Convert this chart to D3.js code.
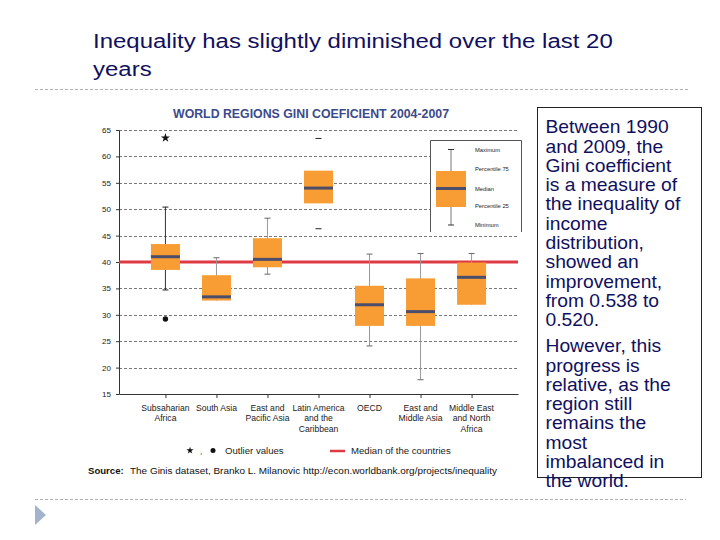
<!DOCTYPE html>
<html>
<head>
<meta charset="utf-8">
<script src="https://cdn.jsdelivr.net/npm/d3@7"></script>
<style>
  html, body { margin: 0; padding: 0; background: #fff; }
  svg { display: block; font-family: "Liberation Sans", Arial, sans-serif; }
</style>
</head>
<body>
<svg id="chart" width="720" height="540"></svg>
<script>
// ---- Data ----
const categories = ["Subsaharian Africa", "South Asia", "East and Pacific Asia", "Latin America and the Caribbean", "OECD", "East and Middle Asia", "Middle East and North Africa"];
const categoryLabels = [["Subsaharian", "Africa"], ["South Asia"], ["East and", "Pacific Asia"], ["Latin America", "and the", "Caribbean"], ["OECD"], ["East and", "Middle Asia"], ["Middle East", "and North", "Africa"]];
const minValues    = [34.7, 32.7, 37.7, 46.3, 24.1, 17.7, 31.9];
const q1Values     = [38.5, 32.7, 39.0, 51.1, 27.9, 27.9, 31.9];
const medianValues = [41.0, 33.4, 40.5, 54.0, 31.9, 30.6, 37.1];
const q3Values     = [43.4, 37.5, 44.5, 57.3, 35.5, 36.9, 39.9];
const maxValues    = [50.4, 40.8, 48.3, 63.4, 41.5, 41.6, 41.6];
const starOutliers = [{cat: "Subsaharian Africa", value: 63.5}];
const dotOutliers  = [{cat: "Subsaharian Africa", value: 29.2}];
const countriesMedian = 40;
const yTicks = [15, 20, 25, 30, 35, 40, 45, 50, 55, 60, 65];
const legendLabels = ["Maximum", "Percentile 75", "Median", "Percentile 25", "Minimum"];
const paragraph1 = ["Between 1990", "and 2009, the", "Gini coefficient", "is a measure of", "the inequality of", "income", "distribution,", "showed an", "improvement,", "from 0.538 to", "0.520."];
const paragraph2 = ["However, this", "progress is", "relative, as the", "region still", "remains the", "most", "imbalanced in", "the world."];

const svg = d3.select("#chart");
const navy = "#10105e";
const orange = "#f89d34";
const medianCol = "#4b4d6b";
const red = "#dd3a44";

// ---- Slide title ----
const titleG = svg.append("g");
const t1 = titleG.append("text").attr("x", 0).attr("y", 48.5).attr("font-size", 21).attr("fill", navy)
  .text("Inequality has slightly diminished over the last 20");
titleG.append("text").attr("x", 0).attr("y", 76.5).attr("font-size", 21).attr("fill", navy)
  .text("years");
const sT = 520 / t1.node().getComputedTextLength();
titleG.attr("transform", `translate(93,0) scale(${sT},1)`);

// separators
svg.append("line").attr("x1", 35).attr("x2", 688).attr("y1", 89.5).attr("y2", 89.5)
  .attr("stroke", "#b0b0b0").attr("stroke-dasharray", "3,2");
svg.append("line").attr("x1", 35).attr("x2", 686).attr("y1", 499.5).attr("y2", 499.5)
  .attr("stroke", "#b0b0b0").attr("stroke-dasharray", "3,2");
svg.append("path").attr("d", "M35,505 L46,515 L35,525 Z").attr("fill", "#a3b3cd");

// ---- Chart ----
const y = d3.scaleLinear().domain([15, 65]).range([394, 130]);
const x = d3.scalePoint().domain(categories).range([119, 518]).padding(0.91);
const boxW = 29;

// chart title
svg.append("text").attr("x", 311).attr("y", 117.5).attr("text-anchor", "middle")
  .attr("font-size", 12.5).attr("font-weight", "bold").attr("fill", "#3b4a8b")
  .attr("textLength", 276).attr("lengthAdjust", "spacingAndGlyphs")
  .text("WORLD REGIONS GINI COEFICIENT 2004-2007");

// gridlines
svg.append("g").selectAll("line").data(yTicks.filter(d => d > 15)).join("line")
  .attr("x1", 119).attr("x2", 518)
  .attr("y1", d => Math.round(y(d)) + 0.5).attr("y2", d => Math.round(y(d)) + 0.5)
  .attr("stroke", "#777").attr("stroke-dasharray", "3,2");

// y axis
const yAxis = svg.append("g").attr("transform", "translate(119,0)")
  .call(d3.axisLeft(y).tickValues(yTicks).tickSize(3).tickSizeOuter(0).tickPadding(5));
yAxis.selectAll("text").attr("font-size", 8).attr("fill", "#222").attr("font-family", "Liberation Sans, Arial");
yAxis.select(".domain").attr("stroke", "#333");
yAxis.selectAll(".tick line").attr("stroke", "#333");

// x axis
const xAxis = svg.append("g").attr("transform", "translate(0,394)")
  .call(d3.axisBottom(x).tickSize(4).tickSizeOuter(0).tickFormat(""));
xAxis.select(".domain").attr("stroke", "#333");
xAxis.selectAll(".tick line").attr("stroke", "#333");
categories.forEach((c, i) => {
  const t = svg.append("text").attr("x", x(c)).attr("y", 410.5).attr("text-anchor", "middle")
    .attr("font-size", 8.6).attr("fill", "#222");
  categoryLabels[i].forEach((ln, j) => {
    t.append("tspan").attr("x", x(c)).attr("dy", j === 0 ? 0 : 10.6).text(ln);
  });
});

// legend box (inside plot)
svg.append("rect").attr("x", 430).attr("y", 140).attr("width", 92).attr("height", 93).attr("fill", "#fff");
svg.append("path").attr("d", "M430.5,232 L430.5,140.5 L521.5,140.5 L521.5,232")
  .attr("fill", "none").attr("stroke", "#555").attr("stroke-width", 1);

// red median line
svg.append("line").attr("x1", 119).attr("x2", 518)
  .attr("y1", y(countriesMedian)).attr("y2", y(countriesMedian))
  .attr("stroke", red).attr("stroke-width", 3);

// boxes
const boxes = svg.append("g");
categories.forEach((c, i) => {
  const cx = x(c);
  const g = boxes.append("g");
  const isLatin = i === 3;
  const wCol = i === 0 ? "#333" : "#999";
  if (!isLatin) {
    g.append("line").attr("x1", cx).attr("x2", cx).attr("y1", y(maxValues[i])).attr("y2", y(minValues[i]))
      .attr("stroke", wCol).attr("stroke-width", 1);
  }
  const capCol = isLatin ? "#222" : (i === 0 ? "#222" : "#666");
  if (maxValues[i] > q3Values[i])
    g.append("line").attr("x1", cx - 3).attr("x2", cx + 3).attr("y1", y(maxValues[i])).attr("y2", y(maxValues[i]))
      .attr("stroke", capCol).attr("stroke-width", 1);
  if (minValues[i] < q1Values[i])
    g.append("line").attr("x1", cx - 3).attr("x2", cx + 3).attr("y1", y(minValues[i])).attr("y2", y(minValues[i]))
      .attr("stroke", capCol).attr("stroke-width", 1);
  g.append("rect").attr("x", cx - boxW / 2).attr("y", y(q3Values[i]))
    .attr("width", boxW).attr("height", y(q1Values[i]) - y(q3Values[i])).attr("fill", orange);
  g.append("line").attr("x1", cx - boxW / 2).attr("x2", cx + boxW / 2)
    .attr("y1", y(medianValues[i])).attr("y2", y(medianValues[i]))
    .attr("stroke", medianCol).attr("stroke-width", 3);
});

// outliers
const star = d3.symbol().type(d3.symbolStar).size(26);
svg.append("g").selectAll("path").data(starOutliers).join("path")
  .attr("transform", d => `translate(${x(d.cat)},${y(d.value)})`).attr("d", star()).attr("fill", "#111");
svg.append("g").selectAll("circle").data(dotOutliers).join("circle")
  .attr("cx", d => x(d.cat)).attr("cy", d => y(d.value)).attr("r", 2.7).attr("fill", "#111");

// legend sample box plot
const lg = svg.append("g");
const lcx = 451;
const lY = {max: 149.5, q3: 171, med: 188.5, q1: 207, min: 225};
lg.append("line").attr("x1", lcx).attr("x2", lcx).attr("y1", lY.max).attr("y2", lY.min).attr("stroke", "#777");
lg.append("line").attr("x1", lcx - 3).attr("x2", lcx + 3).attr("y1", lY.max).attr("y2", lY.max).attr("stroke", "#333");
lg.append("line").attr("x1", lcx - 3).attr("x2", lcx + 3).attr("y1", lY.min).attr("y2", lY.min).attr("stroke", "#333");
lg.append("rect").attr("x", lcx - 15).attr("y", lY.q3).attr("width", 30).attr("height", lY.q1 - lY.q3).attr("fill", orange);
lg.append("line").attr("x1", lcx - 15).attr("x2", lcx + 15).attr("y1", lY.med).attr("y2", lY.med)
  .attr("stroke", medianCol).attr("stroke-width", 3);
const lYs = [lY.max, lY.q3 - 2, lY.med, lY.q1 - 1, lY.min];
legendLabels.forEach((t, i) => {
  lg.append("text").attr("x", 475).attr("y", lYs[i] + 2).attr("font-size", 5.8).attr("fill", "#222").text(t);
});

// bottom legend
const bl = svg.append("g");
bl.append("path").attr("transform", "translate(190,450.5)").attr("d", d3.symbol().type(d3.symbolStar).size(16)()).attr("fill", "#111");
bl.append("text").attr("x", 200).attr("y", 454).attr("font-size", 8).attr("fill", "#222").text(",");
bl.append("circle").attr("cx", 213).attr("cy", 450.5).attr("r", 2.5).attr("fill", "#111");
bl.append("text").attr("x", 225).attr("y", 454).attr("font-size", 9.6).attr("fill", "#222").text("Outlier values");
bl.append("line").attr("x1", 330).attr("x2", 345).attr("y1", 451).attr("y2", 451).attr("stroke", red).attr("stroke-width", 2.5);
bl.append("text").attr("x", 351).attr("y", 454).attr("font-size", 9.6).attr("fill", "#222").text("Median of the countries");

// source
const src = svg.append("text").attr("x", 88).attr("y", 474).attr("font-size", 9.6).attr("fill", "#111");
src.append("tspan").attr("font-weight", "bold").text("Source:");
src.append("tspan").attr("x", 130).text("The Ginis dataset, Branko L. Milanovic http://econ.worldbank.org/projects/inequality")
  .attr("textLength", 367).attr("lengthAdjust", "spacingAndGlyphs");

// ---- Text box ----
svg.append("rect").attr("x", 537.5).attr("y", 107.5).attr("width", 164).attr("height", 370)
  .attr("fill", "none").attr("stroke", "#222").attr("stroke-width", 1);
const tb = svg.append("g").attr("fill", navy).attr("font-size", 18.6);
const lines = [];
paragraph1.forEach((ln, i) => {
  lines.push(tb.append("text").attr("x", 0).attr("y", 133.3 + 19.3 * i).text(ln));
});
paragraph2.forEach((ln, i) => {
  tb.append("text").attr("x", 0).attr("y", 352.3 + 19.3 * i).text(ln);
});
const sB = 126 / lines[2].node().getComputedTextLength();
tb.attr("transform", `translate(545.5,0) scale(${sB},1)`);
</script>
</body>
</html>
